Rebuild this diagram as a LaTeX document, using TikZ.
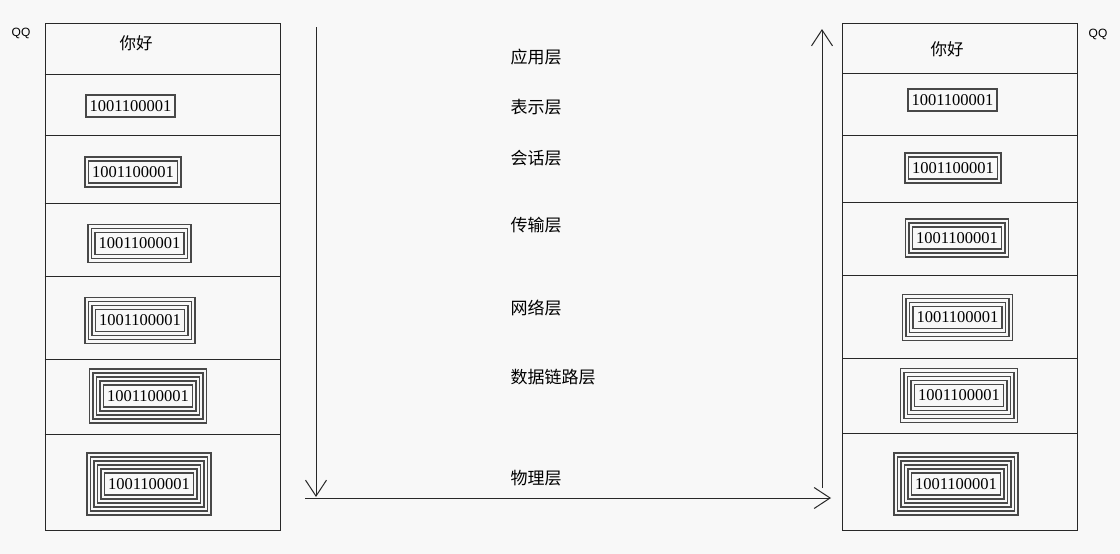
\documentclass[tikz,border=0pt]{standalone}
\usepackage{fontspec}
\setmainfont{Liberation Serif}
\newfontfamily\cjk{Noto Sans CJK SC}
\newfontfamily\qqfont{Liberation Sans}
\usepackage{tikz}
\usetikzlibrary{positioning,arrows.meta}
\definecolor{paper}{RGB}{248,248,248}
\definecolor{ink}{RGB}{40,40,40}

\begin{document}
\begin{tikzpicture}[x=1pt,y=-1pt,>={Straight Barb[length=16pt,width=21pt]},line width=1pt]
\tikzstyle{stack}=[draw=ink,minimum width=235pt,minimum height=507pt,inner sep=0pt]
\tikzstyle{pkt}=[minimum width=88pt,minimum height=21pt,inner sep=0pt,font=\fontsize{16.5}{17}\selectfont]
\tikzstyle{wrap}=[draw=ink!85,line width=1.1pt]
\tikzstyle{layer}=[anchor=west,inner sep=0pt,font=\cjk\fontsize{17}{18}\selectfont]
\tikzstyle{hello}=[inner sep=0pt,font=\cjk\fontsize{16.5}{18}\selectfont]
\tikzstyle{qq}=[inner sep=0pt,font=\qqfont\fontsize{12}{13}\selectfont]

\fill[paper] (0,0) rectangle (1120,554);
\useasboundingbox (0,0) rectangle (1120,554);

% the two stacks
\node[stack] (ls) at (162.5,277) {};
\node[stack] (rs) at (960,276.5) {};
\node[qq] (lqq) at (21,33) {QQ};
\node[qq] (rqq) at (1098,34) {QQ};
\node[hello] (lhi) at (136,43) {你好};
\node[hello] (rhi) at (947,49) {你好};

\foreach \y in {74,135,203,276,359,434}
  \draw[ink] (ls.west |- 0,\y) -- (ls.east |- 0,\y);
\foreach \y in {73,135,202,275,358,433}
  \draw[ink] (rs.west |- 0,\y) -- (rs.east |- 0,\y);

% packets, one more wrapper per layer
\foreach \n/\x/\y/\w in {l1/130.5/106/0, l2/133/172/1, l3/139.5/243.5/2,
    l4/140/320.5/3, l5/148/396/4, l6/149/484/5,
    r1/952.5/100/0, r2/953/168/1, r3/957/238/2,
    r4/957.5/317.5/3, r5/959/395.5/4, r6/956/484/5}{
  \node[pkt] (\n) at (\x,\y) {1001100001};
  \foreach \k in {0,...,\w}
    \draw[wrap] ([shift={(-3.5*\k,-4*\k)}]\n.north west) rectangle ([shift={(3.5*\k,4*\k)}]\n.south east);
}

% layer names
\node[layer] (app) at (510,57) {应用层};
\node[layer] (pres) at (510,107) {表示层};
\node[layer] (sess) at (510,158) {会话层};
\node[layer] (trans) at (510,225) {传输层};
\node[layer] (net) at (510,308) {网络层};
\node[layer] (link) at (510,377) {数据链路层};
\node[layer] (phys) at (510,478) {物理层};

% data path
\coordinate (down0) at (316,27);
\coordinate (down1) at (316,497);
\coordinate (wire0) at (305,498);
\coordinate (wire1) at (831,498);
\coordinate (up0) at (822,488);
\coordinate (up1) at (822,29);
\draw[->,ink] (down0) -- (down1);
\draw[->,ink] (wire0) -- (wire1);
\draw[->,ink] (up0) -- (up1);
\end{tikzpicture}
\end{document}
